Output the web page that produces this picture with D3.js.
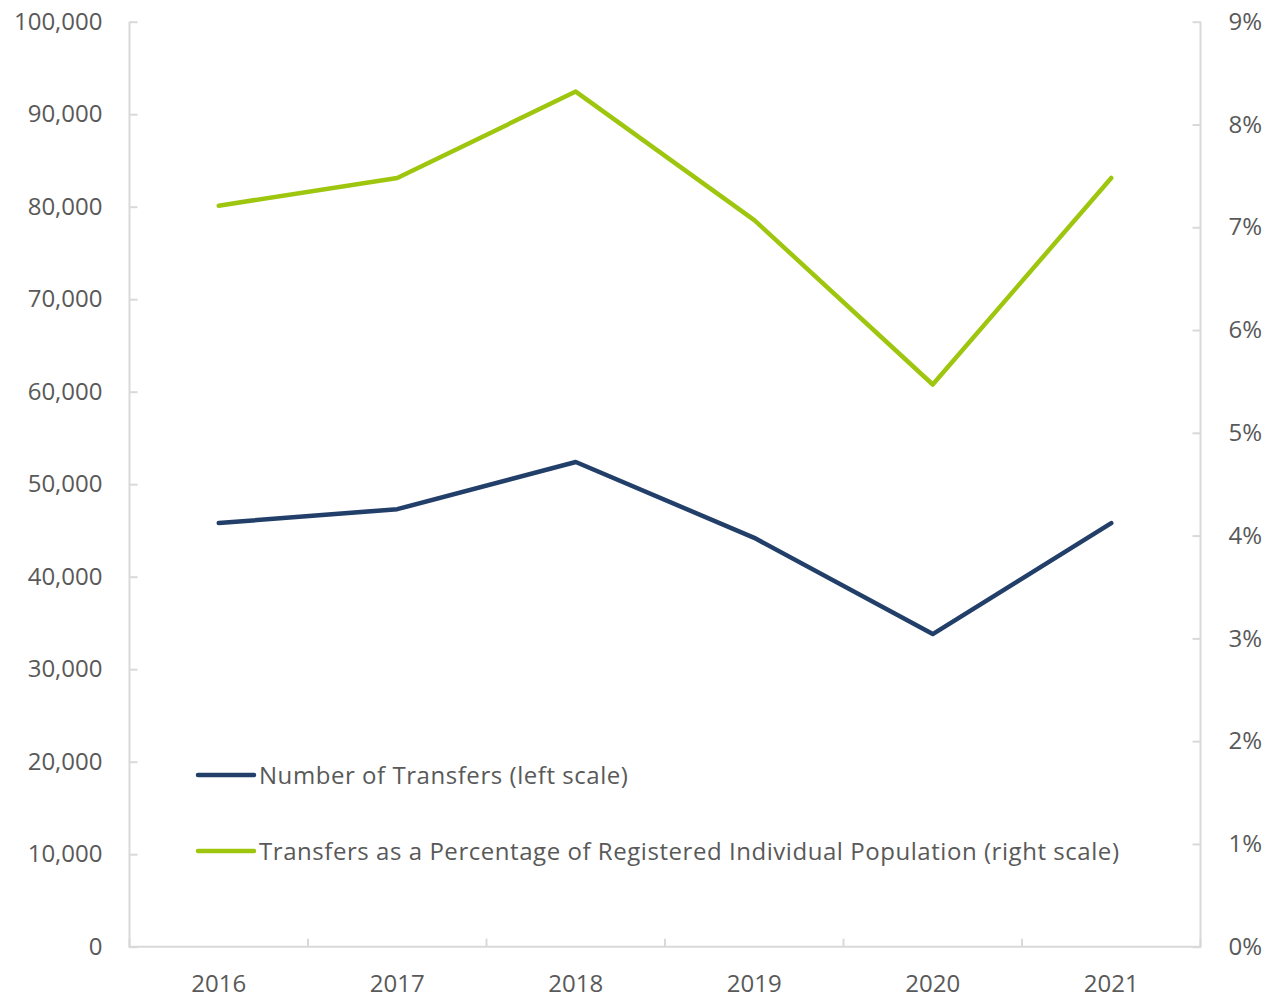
<!DOCTYPE html>
<html>
<head>
<meta charset="utf-8">
<script src="https://cdn.jsdelivr.net/npm/d3@7"></script>
<style>
  html, body { margin: 0; padding: 0; background: #ffffff; }
  svg { display: block; font-family: "Open Sans", "Noto Sans", sans-serif; }
</style>
</head>
<body>
<svg id="chart" width="1275" height="999"></svg>
<script>
// Yearly categories
const years = ["2016", "2017", "2018", "2019", "2020", "2021"];
// Number of transfers (left scale)
const transfers = [45800, 47300, 52400, 44200, 33800, 45800];
// Transfers as a percentage of registered individual population (right scale)
const transferPct = [7.21, 7.48, 8.32, 7.07, 5.47, 7.48];
// Axis ticks
const leftTicks = [0, 10000, 20000, 30000, 40000, 50000, 60000, 70000, 80000, 90000, 100000];
const rightTicks = [0, 1, 2, 3, 4, 5, 6, 7, 8, 9];
// Legend entries
const seriesNames = [
  "Number of Transfers (left scale)",
  "Transfers as a Percentage of Registered Individual Population (right scale)"
];

const blue = "#223f6a";
const green = "#9fc60f";
const textColor = "#595959";
const axisColor = "#d9d9d9";

const svg = d3.select("#chart");
const plotLeft = 129.5, plotRight = 1200.5, plotTop = 21.7, plotBottom = 946.7;

const x = d3.scaleBand().domain(years).range([plotLeft, plotRight]);
const yL = d3.scaleLinear().domain([0, 100000]).range([plotBottom, plotTop]);
const yR = d3.scaleLinear().domain([0, 9]).range([plotBottom, plotTop]);

const fmt = d3.format(",");

// Left axis
const gL = svg.append("g").attr("transform", `translate(${plotLeft},0)`)
  .call(d3.axisLeft(yL).tickValues(leftTicks).tickSize(-8).tickPadding(27).tickFormat(fmt));
// Right axis
const gR = svg.append("g").attr("transform", `translate(${plotRight},0)`)
  .call(d3.axisRight(yR).tickValues(rightTicks).tickSize(-8).tickPadding(28).tickFormat(d => d + "%"));
// Bottom axis: ticks at band boundaries
const gB = svg.append("g").attr("transform", `translate(0,${plotBottom})`)
  .call(d3.axisBottom(x).tickSize(0).tickPadding(28));
gB.selectAll(".tick").append("line")
  .attr("x1", -x.bandwidth() / 2).attr("x2", -x.bandwidth() / 2)
  .attr("y1", 0).attr("y2", -8);
gB.append("line")
  .attr("x1", plotRight).attr("x2", plotRight).attr("y1", 0).attr("y2", -8);

// Plain axis lines without end caps
gL.select(".domain").attr("d", `M0,${plotTop}V${plotBottom}`);
gR.select(".domain").attr("d", `M0,${plotTop}V${plotBottom}`);
gB.select(".domain").attr("d", `M${plotLeft - 1},0H${plotRight + 1}`);

[gL, gR, gB].forEach(g => {
  g.select(".domain").attr("stroke", axisColor).attr("stroke-width", 2);
  g.selectAll("line").attr("stroke", axisColor).attr("stroke-width", 2);
  g.selectAll("text").attr("fill", textColor).style("font-size", "24px")
    .style("font-family", '"Open Sans", sans-serif');
});

// Series lines
const cx = i => x(years[i]) + x.bandwidth() / 2;
const lineL = d3.line().x((d, i) => cx(i)).y(d => yL(d));
const lineR = d3.line().x((d, i) => cx(i)).y(d => yR(d));

svg.append("path").datum(transferPct)
  .attr("d", lineR).attr("fill", "none").attr("stroke", green)
  .attr("stroke-width", 4.5).attr("stroke-linejoin", "round").attr("stroke-linecap", "round");
svg.append("path").datum(transfers)
  .attr("d", lineL).attr("fill", "none").attr("stroke", blue)
  .attr("stroke-width", 4.5).attr("stroke-linejoin", "round").attr("stroke-linecap", "round");

// Legend
const legend = svg.append("g").attr("transform", "translate(198,775)");
const legendColors = [blue, green];
seriesNames.forEach((name, i) => {
  const g = legend.append("g").attr("transform", `translate(0,${i * 76})`);
  g.append("line").attr("x1", 0).attr("x2", 56).attr("y1", 0).attr("y2", 0)
    .attr("stroke", legendColors[i]).attr("stroke-width", 4.5).attr("stroke-linecap", "round");
  g.append("text").attr("x", 61).attr("y", 0).attr("dy", "0.38em")
    .attr("fill", textColor).style("font-size", "24px")
    .style("letter-spacing", "0.55px").text(name);
});
</script>
</body>
</html>
